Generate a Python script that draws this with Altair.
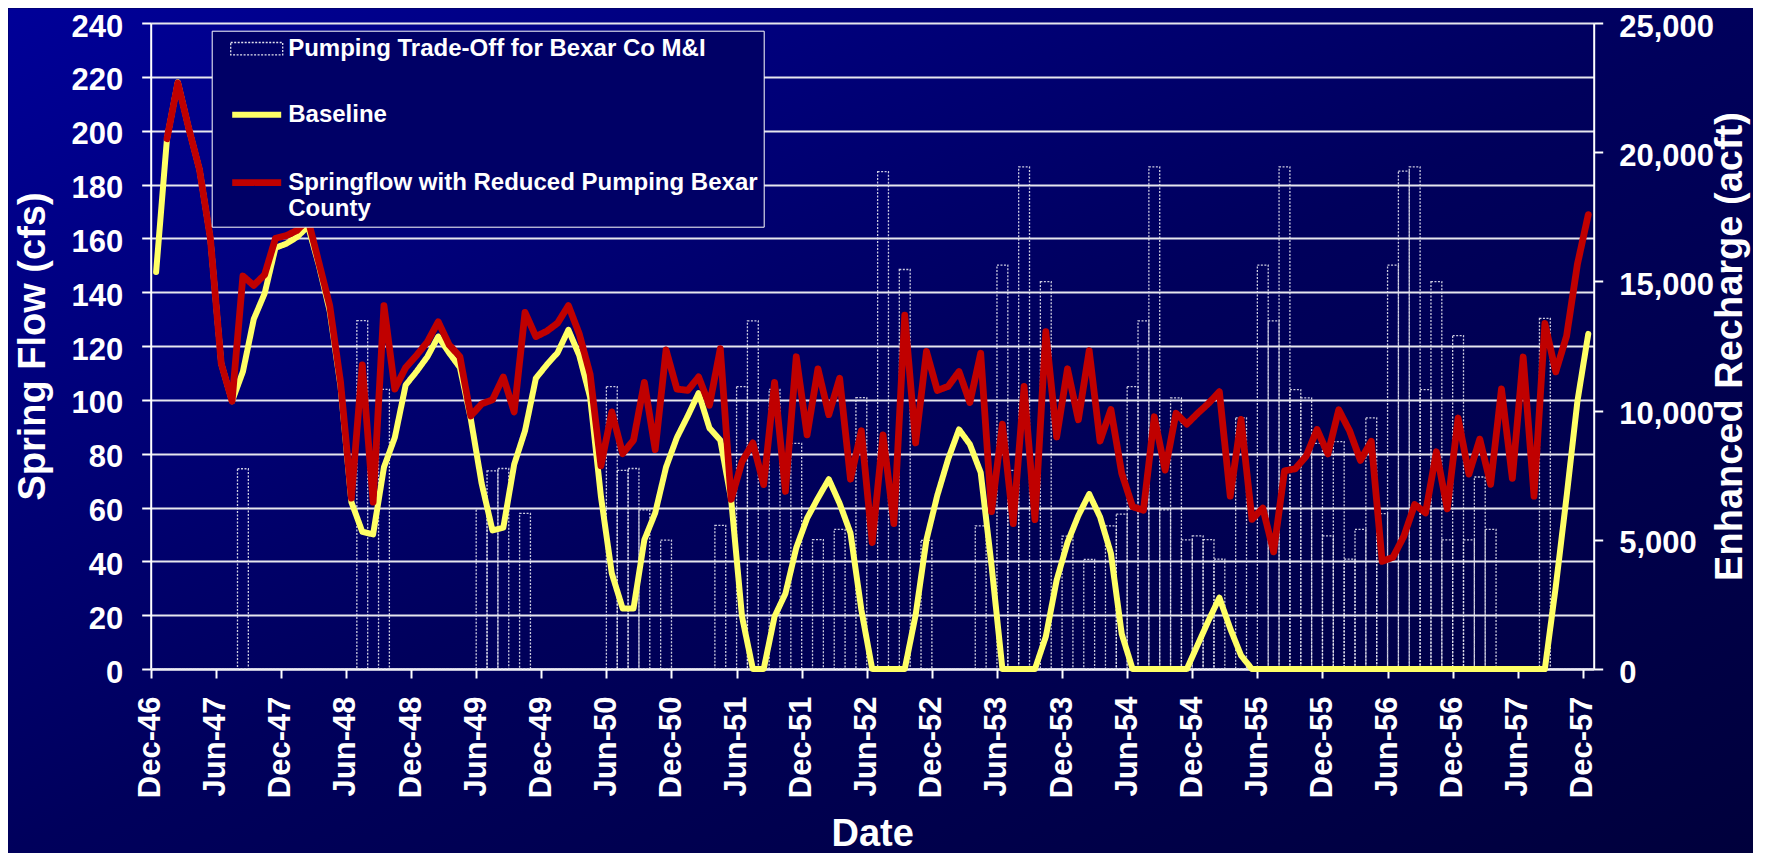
import json
import altair as alt
import pandas as pd

# ---------------- data ----------------
TICK_LABELS = ["Dec-46", "Jun-47", "Dec-47", "Jun-48", "Dec-48", "Jun-49", "Dec-49",
               "Jun-50", "Dec-50", "Jun-51", "Dec-51", "Jun-52", "Dec-52", "Jun-53",
               "Dec-53", "Jun-54", "Dec-54", "Jun-55", "Dec-55", "Jun-56", "Dec-56",
               "Jun-57", "Dec-57"]

SERIES = ["Pumping Trade-Off for Bexar Co M&I", "Baseline",
          "Springflow with Reduced Pumping Bexar County"]
SERIES_COLORS = ["#E2E2EE", "#FFFF66", "#C00000"]
SERIES_DASH = [[2, 1.5], [1, 0], [1, 0]]
SERIES_WIDTH = [1.3, 6, 6.8]

# monthly values, Dec-46 ... Dec-57 (133 months)
BASELINE = [
    147.5, 197, 218, 201, 185.5, 160, 113.5, 99.5, 110.5, 130, 139.5, 156.5,
    158, 160.5, 164.5, 150, 133, 105, 62, 51, 50, 75, 86, 105.5,
    110.5, 116, 123.5, 117.5, 112, 93, 69, 51.5, 52.5, 76, 88.5, 108,
    113, 117.5, 126, 116.5, 101, 64, 35.5, 22.5, 22.5, 48, 58, 75,
    86, 94, 102.5, 89.5, 85, 63, 19.5, 0, 0, 19.5, 28, 45,
    56, 63.5, 70.5, 61.5, 50.5, 22, 0, 0, 0, 0, 20, 48,
    64.5, 78, 89, 83.5, 73, 38.5, 0, 0, 0, 0, 12, 33,
    47, 57, 65, 56.5, 43, 13, 0, 0, 0, 0, 0, 0,
    9, 18, 26.5, 15, 5, 0, 0, 0, 0, 0, 0, 0,
    0, 0, 0, 0, 0, 0, 0, 0, 0, 0, 0, 0,
    0, 0, 0, 0, 0, 0, 0, 0, 0, 30.5, 64, 99.5,
    124.5,
]

SPRINGFLOW = [
    None, 197, 217.7, 201, 185.5, 160, 113.5, 99.5, 146, 142.5, 146.5, 160,
    161, 163, 167, 151, 135, 106.5, 63.5, 113, 62, 135, 104, 112,
    116.5, 121.5, 129, 120.5, 116, 94, 98.5, 100, 108.5, 95.5, 132.5, 123.5,
    125.5, 128.5, 135, 124.5, 109.5, 75.5, 95.5, 80, 85, 106.5, 81.5, 118.5,
    104, 103.5, 108.5, 98, 119, 63, 77, 84, 68.5, 106.5, 66, 116,
    87, 111.5, 94.5, 108, 70.5, 88.5, 47, 87, 54, 131.5, 84, 118,
    103.5, 105, 110.5, 99, 117.3, 58.5, 91, 54, 105, 55.5, 125.3, 86.2,
    111.5, 92.6, 118.3, 84.7, 96.4, 72.7, 60.3, 59, 93.7, 73.9, 95, 91,
    95, 98.7, 103, 64.2, 92.7, 55.6, 59.8, 43.5, 73.6, 74.4, 79.1, 89,
    79.9, 96.3, 88.5, 77.5, 84.6, 40, 41.5, 49.3, 61.1, 58, 80.7, 59.5,
    93.2, 72.4, 85.4, 68.6, 104.1, 70.8, 115.9, 64.2, 128.4, 110.4, 123.7, 150.4,
    168.8,
]

RECHARGE = [
    0, 0, 0, 0, 0, 0, 0, 0, 7750, 0, 0, 0,
    0, 0, 0, 0, 0, 0, 0, 13480, 0, 10820, 0, 0,
    0, 0, 0, 0, 0, 0, 6210, 7670, 7760, 0, 6020, 0,
    0, 0, 0, 0, 0, 0, 10930, 7690, 7760, 6160, 0, 4990,
    0, 0, 0, 0, 5560, 0, 10930, 13470, 0, 10820, 0, 8730,
    0, 5010, 0, 5400, 0, 10500, 0, 19250, 0, 15460, 0, 4980,
    0, 0, 0, 0, 5540, 0, 15630, 7690, 19430, 0, 14990, 0,
    5140, 0, 4240, 0, 5540, 5990, 10930, 13470, 19430, 6160, 10490, 5000,
    5150, 5010, 4250, 0, 9720, 0, 15630, 13470, 19430, 10810, 10490, 8730,
    5150, 8800, 4250, 5400, 9720, 6010, 15630, 19270, 19430, 10810, 14990, 5000,
    12900, 5000, 7430, 5400, 0, 0, 0, 0, 13570, 0, 0, 0,
    0,
]

# ---------------- layout ----------------
N = len(BASELINE)
months = list(range(N))

W, H = 1745, 845                 # whole chart = view
X_RANGE = [142.7, 1585.7]        # plot left / right inside the view
Y_RANGE = [661, 15]              # plot bottom / top inside the view
FONT = "Liberation Sans"
WHITE = "#FFFFFF"

bars_df = pd.DataFrame({"m0": months, "m1": [m + 1 for m in months],
                        "recharge": RECHARGE, "series": SERIES[0]})
base_df = pd.DataFrame({"mc": [m + 0.5 for m in months], "flow": BASELINE,
                        "series": SERIES[1]})
spring_df = pd.DataFrame({"mc": [m + 0.5 for m in months], "flow": SPRINGFLOW,
                          "series": SERIES[2]}).dropna()

x_scale = alt.Scale(domain=[0, N], range=X_RANGE, nice=False, zero=False)
yl_scale = alt.Scale(domain=[0, 240], range=Y_RANGE, nice=False, zero=False)
yr_scale = alt.Scale(domain=[0, 25000], range=Y_RANGE, nice=False, zero=False)

axis_common = dict(
    labelFont=FONT, labelFontSize=31, labelFontWeight="bold", labelColor=WHITE,
    titleFont=FONT, titleFontSize=38, titleFontWeight="bold", titleColor=WHITE,
    domainColor=WHITE, domainWidth=2, tickColor=WHITE, tickWidth=2, tickSize=9,
    labelOverlap=False, labelFlush=False,
)

x_axis = alt.Axis(
    values=list(range(0, N, 6)),
    labelExpr=json.dumps(TICK_LABELS) + "[round(datum.value / 6)]",
    title="Date", orient="bottom", offset=-(H - Y_RANGE[0]), grid=False,
    labelAngle=270, labelAlign="right", labelBaseline="middle", labelPadding=18,
    titleX=(X_RANGE[0] + X_RANGE[1]) / 2, titleY=176, titleBaseline="alphabetic",
    titleAlign="center", **axis_common)

yl_axis = alt.Axis(
    values=list(range(0, 241, 20)), title="Spring Flow (cfs)", orient="left",
    offset=-X_RANGE[0], grid=True, gridColor="#E6E6EE", gridWidth=1.8,
    labelPadding=19, labelOffset=4, titleAngle=270, titleX=-117, titleY=338,
    titleBaseline="middle", titleAlign="center", **axis_common)

yr_axis = alt.Axis(
    values=list(range(0, 25001, 5000)), format=",.0f", title="Enhanced Recharge (acft)",
    orient="right", offset=-(W - X_RANGE[1]), grid=False, labelPadding=16,
    labelOffset=4, titleAngle=270, titleX=137, titleY=338, titleBaseline="middle",
    titleAlign="center", **axis_common)

BAR_PATH = "M-26,-6.2H26V6.2H-26Z"
LINE_PATH = "M-24.5,0H24.5"
legend = alt.Legend(
    title=None, orient="none", legendX=203.7, legendY=22.7, direction="vertical",
    fillColor="#000066", strokeColor=WHITE, padding=6, rowPadding=42,
    labelFont=FONT, labelFontSize=24, labelFontWeight="bold", labelColor=WHITE,
    labelLimit=1000, labelOffset=19.5, symbolOffset=27, symbolSize=4,
    symbolFillColor="transparent", symbolOpacity=1,
    symbolType=alt.ExprRef(expr="datum.value === '%s' ? '%s' : '%s'"
                           % (SERIES[0], BAR_PATH, LINE_PATH)),
    labelExpr="datum.label === '%s' ? ['Springflow with Reduced Pumping Bexar', 'County'] : datum.label" % SERIES[2],
)
stroke_enc = alt.Stroke("series:N", scale=alt.Scale(domain=SERIES, range=SERIES_COLORS),
                        legend=legend)
dash_enc = alt.StrokeDash("series:N", scale=alt.Scale(domain=SERIES, range=SERIES_DASH),
                          legend=legend)
width_enc = alt.StrokeWidth("series:N",
                            scale=alt.Scale(type="ordinal", domain=SERIES, range=SERIES_WIDTH),
                            legend=legend)

bars = alt.Chart(bars_df).mark_bar(fill="transparent", strokeOpacity=0.9).encode(
    x=alt.X("m0:Q", scale=x_scale, axis=x_axis),
    x2="m1:Q",
    y=alt.Y("recharge:Q", scale=yr_scale, axis=yr_axis),
    y2=alt.datum(0),
    stroke=stroke_enc, strokeDash=dash_enc, strokeWidth=width_enc,
)

line_kw = dict(strokeCap="round", strokeJoin="round")
baseline = alt.Chart(base_df).mark_line(**line_kw).encode(
    x=alt.X("mc:Q", scale=x_scale, axis=x_axis),
    y=alt.Y("flow:Q", scale=yl_scale, axis=yl_axis),
    stroke=stroke_enc, strokeDash=dash_enc, strokeWidth=width_enc,
)
spring = alt.Chart(spring_df).mark_line(**line_kw).encode(
    x=alt.X("mc:Q", scale=x_scale, axis=x_axis),
    y=alt.Y("flow:Q", scale=yl_scale, axis=yl_axis),
    stroke=stroke_enc, strokeDash=dash_enc, strokeWidth=width_enc,
)

lines = alt.layer(baseline, spring)

GRADIENT = ("{gradient: 'linear', x1: 0, y1: 0, x2: 1, y2: 1, stops: ["
            "{offset: 0, color: '#000098'}, {offset: 0.5, color: '#00005C'}, "
            "{offset: 1, color: '#00003C'}]}")

chart = (
    alt.layer(bars, lines)
    .resolve_scale(y="independent")
    .properties(width=W, height=H, padding=0,
                autosize=alt.AutoSizeParams(type="none"))
    .configure(background="#00005A")
    .configure_view(fill=alt.ExprRef(expr=GRADIENT), strokeOpacity=0)
)

chart.save("out.html", embed_options={"renderer": "svg", "actions": False})
